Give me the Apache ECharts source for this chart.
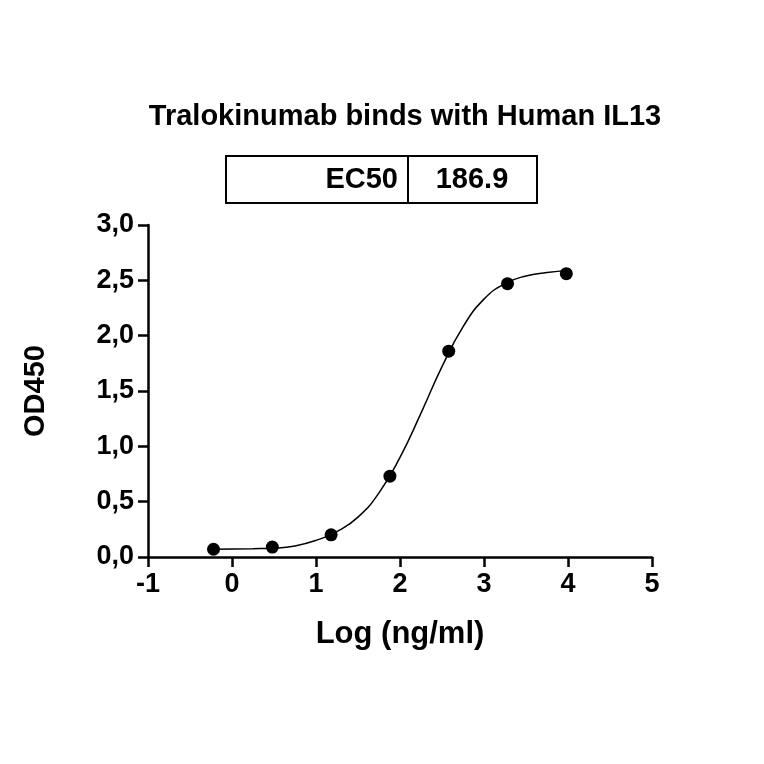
<!DOCTYPE html>
<html><head><meta charset="utf-8">
<script src="https://cdn.jsdelivr.net/npm/echarts@6/dist/echarts.min.js"></script>
<style>html,body{margin:0;padding:0;background:#fff}#c{width:764px;height:764px}</style>
</head><body><div id="c"></div>
<script>
const pointsX = [-0.22, 0.48, 1.18, 1.88, 2.58, 3.28, 3.98];
const pointsY = [0.07, 0.09, 0.20, 0.73, 1.86, 2.47, 2.56];
const curveX = [-0.22, 0.25, 0.5, 0.75, 1.0, 1.25, 1.5, 1.75, 2.0, 2.25, 2.5, 2.75, 3.0, 3.25, 3.5, 3.75, 4.0];
const curveY = [0.07, 0.075, 0.08, 0.10, 0.15, 0.23, 0.36, 0.58, 0.90, 1.30, 1.72, 2.08, 2.33, 2.47, 2.54, 2.57, 2.59];
const titleText = 'Tralokinumab binds with Human IL13';
const ec50Label = 'EC50', ec50Value = '186.9';

const F = 'Liberation Sans, Arial, sans-serif';
const chart = echarts.init(document.getElementById('c'));
chart.setOption({
  animation: false,
  title: {text: titleText, left: 400, top: 97, textAlign: 'center',
    textStyle: {fontFamily: F, fontWeight: 'bold', fontSize: 29, color: '#000'}},
  grid: {left: 148, right: 112, top: 225, bottom: 207},
  xAxis: {type: 'value', min: -1, max: 5, interval: 1,
    name: 'Log (ng/ml)', nameLocation: 'middle', nameGap: 62,
    nameTextStyle: {fontFamily: F, fontWeight: 'bold', fontSize: 31, color: '#000'},
    axisLine: {onZero: false, lineStyle: {color: '#000', width: 2.5}},
    axisTick: {show: true, length: 10, lineStyle: {color: '#000', width: 2.5}},
    axisLabel: {fontFamily: F, fontWeight: 'bold', fontSize: 27, color: '#000', margin: 14},
    splitLine: {show: false}},
  yAxis: {type: 'value', min: 0, max: 3, interval: 0.5,
    name: 'OD450', nameLocation: 'middle', nameGap: 98,
    nameTextStyle: {fontFamily: F, fontWeight: 'bold', fontSize: 29, color: '#000'},
    axisLine: {show: true, onZero: false, lineStyle: {color: '#000', width: 2.5}},
    axisTick: {show: true, length: 10, lineStyle: {color: '#000', width: 2.5}},
    axisLabel: {fontFamily: F, fontWeight: 'bold', fontSize: 27, color: '#000', margin: 14,
      formatter: v => v.toFixed(1).replace('.', ',')},
    splitLine: {show: false}},
  series: [
    {type: 'line', data: curveX.map((x, i) => [x, curveY[i]]), smooth: true, showSymbol: false,
     lineStyle: {color: '#000', width: 1.5}},
    {type: 'scatter', data: pointsX.map((x, i) => [x, pointsY[i]]), symbolSize: 13,
     itemStyle: {color: '#000', opacity: 1}}
  ],
  graphic: [
    {type: 'rect', shape: {x: 226, y: 156, width: 311, height: 47}, style: {fill: 'none', stroke: '#000', lineWidth: 2}},
    {type: 'line', shape: {x1: 408, y1: 156, x2: 408, y2: 203}, style: {stroke: '#000', lineWidth: 2}},
    {type: 'text', x: 398, y: 180, style: {text: ec50Label, font: 'bold 29px ' + F, fill: '#000', align: 'right', verticalAlign: 'middle'}},
    {type: 'text', x: 472, y: 180, style: {text: ec50Value, font: 'bold 29px ' + F, fill: '#000', align: 'center', verticalAlign: 'middle'}}
  ]
});
</script></body></html>
